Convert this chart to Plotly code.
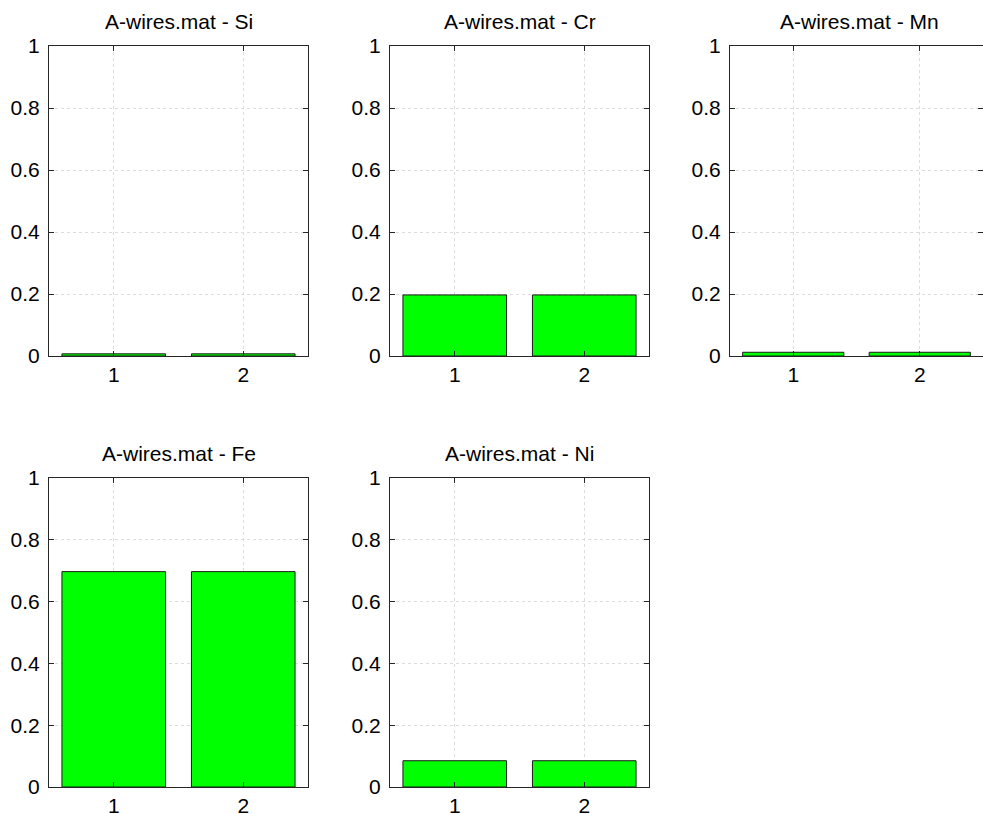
import plotly.graph_objects as go

W, H = 983, 814

categories = [1, 2]
elements = ["Si", "Cr", "Mn", "Fe", "Ni"]
si_values = [0.007, 0.007]
cr_values = [0.197, 0.197]
mn_values = [0.012, 0.012]
fe_values = [0.697, 0.697]
ni_values = [0.085, 0.085]
y_ticks = [0, 0.2, 0.4, 0.6, 0.8, 1]
y_tick_labels = ["0", "0.2", "0.4", "0.6", "0.8", "1"]
x_tick_labels = ["1", "2"]
series = [si_values, cr_values, mn_values, fe_values, ni_values]

# pixel boxes of the plot areas (left, right, top, bottom)
col_px = [(49, 308), (390, 649), (730, 989)]
row_px = [(46, 356), (478, 787)]

fig = go.Figure()
layout = dict(
    width=W, height=H,
    margin=dict(l=0, r=0, t=0, b=0),
    paper_bgcolor="white", plot_bgcolor="white",
    showlegend=False,
    font=dict(family="Liberation Sans, Arial, sans-serif", size=21, color="#000000"),
    bargap=0.2,
)
annotations = []
for i, (el, vals) in enumerate(zip(elements, series)):
    r, c = divmod(i, 3)
    n = i + 1
    xa = "x" if n == 1 else f"x{n}"
    ya = "y" if n == 1 else f"y{n}"
    fig.add_trace(go.Bar(
        x=categories, y=vals, xaxis=xa, yaxis=ya,
        width=0.8,
        marker=dict(color="#00FF00", line=dict(color="#1a1a1a", width=1)),
    ))
    l, rr = col_px[c]
    t, b = row_px[r]
    xd = [l / W, min(rr / W, 1.0)]
    yd = [1 - b / H, 1 - t / H]
    common = dict(
        showline=True, linecolor="#262626", linewidth=1, mirror="ticks",
        ticks="inside", ticklen=5, tickcolor="#262626",
        showgrid=True, gridcolor="#dcdcdc", griddash="dot", gridwidth=1,
        zeroline=False, automargin=False,
        tickfont=dict(size=21, color="#000000"),
    )
    layout["xaxis" if n == 1 else f"xaxis{n}"] = dict(
        domain=xd, anchor=ya, range=[0.5, 2.5],
        tickmode="array", tickvals=categories, ticktext=x_tick_labels,
        ticklabelstandoff=0,
        **common,
    )
    layout["yaxis" if n == 1 else f"yaxis{n}"] = dict(
        domain=yd, anchor=xa, range=[0, 1],
        tickmode="array", tickvals=y_ticks, ticktext=y_tick_labels,
        ticklabelstandoff=4,
        **common,
    )
    annotations.append(dict(
        text=f"A-wires.mat - {el}", xref="paper", yref="paper",
        x=((l + rr) / 2) / W, y=1 - t / H, xanchor="center", yanchor="bottom",
        yshift=11, showarrow=False, font=dict(size=21, color="#000000"),
    ))
layout["annotations"] = annotations
fig.update_layout(**layout)
fig.write_html(
    "out.html",
    config={"displayModeBar": False},
    post_script="document.body.style.margin='0px';document.body.style.overflow='hidden';",
)
